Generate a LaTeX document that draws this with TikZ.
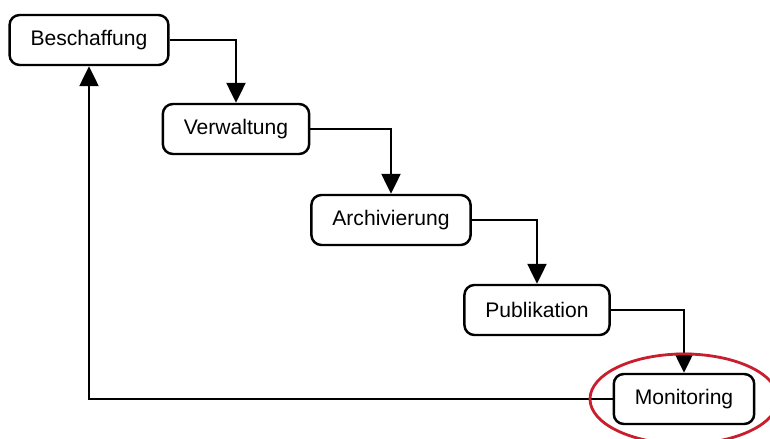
\documentclass[tikz,border=0pt]{standalone}
\usepackage{fontspec}
\setmainfont{Liberation Sans}
\usetikzlibrary{arrows.meta}

\begin{document}
\begin{tikzpicture}
\tikzstyle{phase}=[draw,line width=1.4pt,rounded corners=0.2cm,minimum height=1cm,inner xsep=0.42cm,font=\fontsize{12}{14}\selectfont];
\tikzstyle{flow}=[line width=1.4pt,-{Triangle[length=0.4cm,width=0.38cm]}];
\useasboundingbox (0,0) rectangle (15.4,-8.78);
\node[phase] (beschaffung) at (1.78,-0.8) {Beschaffung};
\node[phase] (verwaltung) at (4.72,-2.58) {Verwaltung};
\node[phase] (archivierung) at (7.82,-4.4) {Archivierung};
\node[phase] (publikation) at (10.74,-6.2) {Publikation};
\node[phase] (monitoring) at (13.68,-7.98) {Monitoring};
\draw[flow] (beschaffung.east) -| (verwaltung.north);
\draw[flow] (verwaltung.east) -| (archivierung.north);
\draw[flow] (archivierung.east) -| (publikation.north);
\draw[flow] (publikation.east) -| (monitoring.north);
\draw[flow] (monitoring.west) -| (beschaffung.south);
% Markierung
\draw[line width=1.6pt,color={rgb,255:red,200;green,30;blue,45}] (monitoring.center) ellipse (1.88cm and 0.9cm);
\end{tikzpicture}
\end{document}
